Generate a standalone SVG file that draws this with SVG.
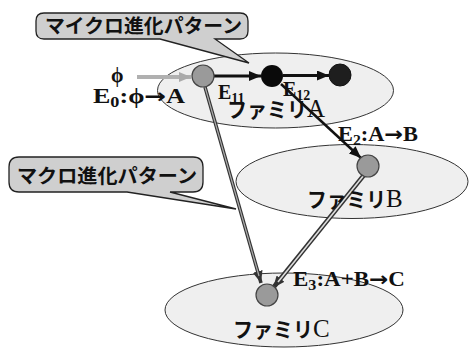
<svg xmlns="http://www.w3.org/2000/svg" width="470" height="349" viewBox="0 0 470 349">
<style>
.fam{fill:#efefef;stroke:#333;stroke-width:1}
.callout{fill:#cfcfcf;stroke:#222;stroke-width:1.3}
.ctext{font-family:"Noto Sans CJK JP",sans-serif;font-weight:bold;font-size:19.5px;fill:#111}
.ftext{font-family:"Noto Sans CJK JP",sans-serif;font-weight:bold;font-size:21px;fill:#111}
.lat{font-family:"Liberation Serif","DejaVu Serif",serif;font-size:25px;fill:#111}
.lbl{font-family:"Liberation Serif","DejaVu Serif",serif;font-weight:bold;font-size:20px;fill:#111}
.sub{font-size:14px}
.arr{font-family:"DejaVu Sans",sans-serif;font-weight:bold}
.gnode{fill:#9a9a9a;stroke:#444;stroke-width:1.2}
</style>
<defs>
<marker id="ah-black" markerUnits="userSpaceOnUse" markerWidth="12" markerHeight="10" refX="12" refY="5" orient="auto">
<path d="M0,0 L12,5 L0,10 z" fill="#111"/>
</marker>
<marker id="ah-gray" markerUnits="userSpaceOnUse" markerWidth="12" markerHeight="10" refX="12" refY="5" orient="auto">
<path d="M0,0 L12,5 L0,10 z" fill="#aaa"/>
</marker>
<marker id="ah-dark" markerUnits="userSpaceOnUse" markerWidth="12" markerHeight="10" refX="12" refY="5" orient="auto">
<path d="M0,0 L12,5 L0,10 z" fill="#333"/>
</marker>
</defs>
<rect width="470" height="349" fill="#fff"/>

<g id="family-A"><ellipse class="fam" cx="275.5" cy="90.5" rx="118" ry="37.5"/></g>
<g id="family-B"><ellipse class="fam" cx="352" cy="181.5" rx="116" ry="37"/></g>
<g id="family-C"><ellipse class="fam" cx="284" cy="310" rx="119" ry="37"/></g>

<g id="callout-micro">
<path class="callout" d="M44,13 H240 Q248,13 248,21 V31 Q248,39 240,39 H215 L249,63 L160,39 H44 Q36,39 36,31 V21 Q36,13 44,13 z"/>
<text class="ctext" x="45" y="33" textLength="197" lengthAdjust="spacingAndGlyphs">マイクロ進化パターン</text>
</g>
<g id="callout-macro">
<path class="callout" d="M19,157 H193 Q203,157 203,167 V182 Q203,192 193,192 H170 L236,209 L127,192 H19 Q9,192 9,182 V167 Q9,157 19,157 z"/>
<text class="ctext" x="17" y="183" textLength="180" lengthAdjust="spacingAndGlyphs">マクロ進化パターン</text>
</g>

<g id="connectors">
<line x1="137" y1="77" x2="191" y2="77" stroke="#b0b0b0" stroke-width="4" marker-end="url(#ah-gray)"/>
<line x1="214" y1="76" x2="261" y2="76" stroke="#111" stroke-width="3" marker-end="url(#ah-black)"/>
<line x1="283" y1="75.5" x2="329" y2="75.5" stroke="#111" stroke-width="3" marker-end="url(#ah-black)"/>
<line x1="281" y1="84" x2="361" y2="158" stroke="#111" stroke-width="2.5" marker-end="url(#ah-black)"/>
<line x1="205" y1="87" x2="261" y2="283" stroke="#333" stroke-width="3.5" marker-end="url(#ah-dark)"/>
<line x1="205" y1="87" x2="259" y2="276" stroke="#aaa" stroke-width="1.2"/>
<line x1="364" y1="175" x2="273" y2="288" stroke="#333" stroke-width="4.5" marker-end="url(#ah-dark)"/>
<line x1="364" y1="175" x2="278" y2="282" stroke="#ddd" stroke-width="1.6"/>
</g>

<g id="node-A"><circle class="gnode" cx="203" cy="76" r="11"/></g>
<g id="node-A1"><circle cx="272" cy="76" r="11" fill="#0a0a0a"/></g>
<g id="node-A2"><circle cx="340" cy="75" r="11" fill="#1e1e1e" stroke="#111" stroke-width="1"/></g>
<g id="node-B"><circle class="gnode" cx="368" cy="166" r="11"/></g>
<g id="node-C"><circle class="gnode" cx="267" cy="295" r="11"/></g>

<g id="labels">
<text class="lbl" x="111" y="82" font-size="18">ϕ</text>
<text class="lbl" x="93" y="103" textLength="92" lengthAdjust="spacingAndGlyphs">E<tspan class="sub" dy="4">0</tspan><tspan dy="-4">:ϕ</tspan><tspan class="arr">→</tspan>A</text>
<text class="lbl" x="218" y="99">E<tspan class="sub" dy="4">11</tspan></text>
<text class="lbl" x="283" y="96">E<tspan class="sub" dy="4">12</tspan></text>
<text class="lbl" x="338" y="141" textLength="80" lengthAdjust="spacingAndGlyphs">E<tspan class="sub" dy="4">2</tspan><tspan dy="-4">:A</tspan><tspan class="arr">→</tspan>B</text>
<text class="lbl" x="293" y="286" textLength="112" lengthAdjust="spacingAndGlyphs">E<tspan class="sub" dy="4">3</tspan><tspan dy="-4">:A+B</tspan><tspan class="arr">→</tspan>C</text>
<text class="ftext" x="227" y="117" textLength="80" lengthAdjust="spacingAndGlyphs">ファミリ</text>
<text class="lat" x="307" y="117">A</text>
<text class="ftext" x="307" y="207" textLength="79" lengthAdjust="spacingAndGlyphs">ファミリ</text>
<text class="lat" x="386" y="207">B</text>
<text class="ftext" x="233" y="337" textLength="80" lengthAdjust="spacingAndGlyphs">ファミリ</text>
<text class="lat" x="313" y="337">C</text>
</g>
</svg>
